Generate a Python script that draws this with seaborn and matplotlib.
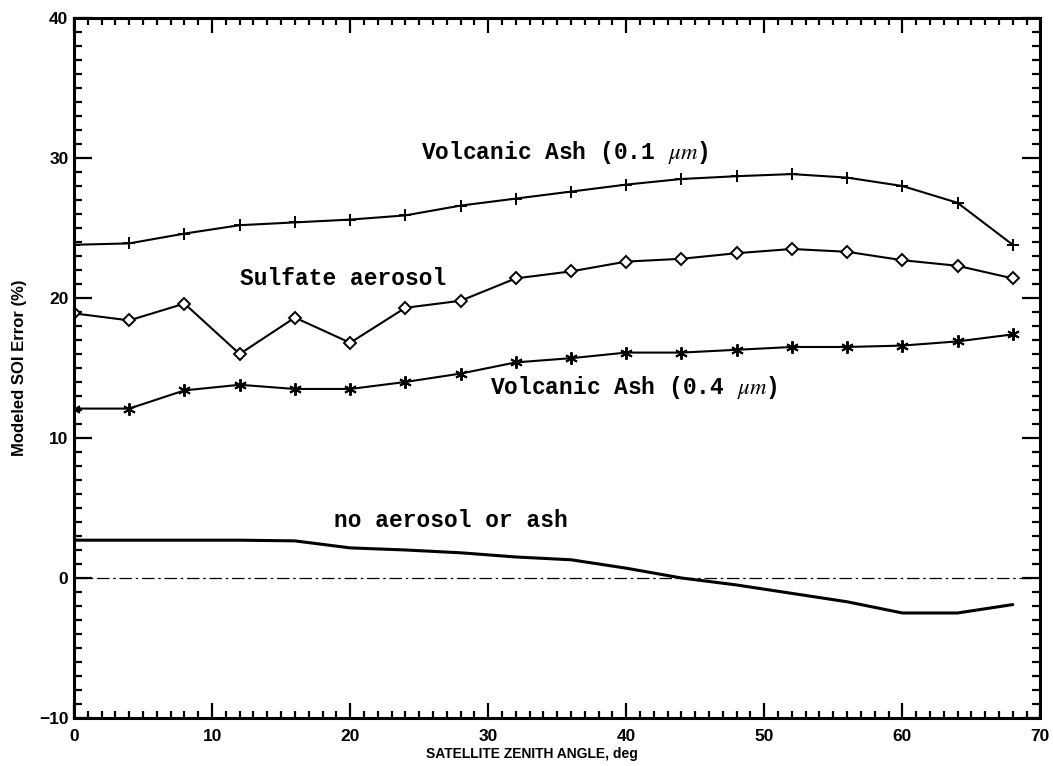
import numpy as np
import pandas as pd
import matplotlib
matplotlib.use("Agg")
import matplotlib.pyplot as plt
import seaborn as sns
from matplotlib.ticker import MultipleLocator

# Satellite zenith angle samples (deg)
zenith = [0, 4, 8, 12, 16, 20, 24, 28, 32, 36, 40, 44, 48, 52, 56, 60, 64, 68]

# Modeled SOI error (%) for each case
ash_01 = [23.8, 23.9, 24.6, 25.2, 25.4, 25.6, 25.9, 26.6, 27.1, 27.6, 28.1, 28.5,
          28.7, 28.85, 28.6, 28.0, 26.8, 23.8]
sulfate = [18.9, 18.4, 19.6, 16.0, 18.6, 16.8, 19.3, 19.8, 21.4, 21.9, 22.6, 22.8,
           23.2, 23.5, 23.3, 22.7, 22.3, 21.4]
ash_04 = [12.1, 12.1, 13.4, 13.8, 13.5, 13.5, 14.0, 14.6, 15.4, 15.7, 16.1, 16.1,
          16.3, 16.5, 16.5, 16.6, 16.9, 17.4]
no_aerosol = [2.7, 2.7, 2.7, 2.7, 2.65, 2.15, 2.0, 1.8, 1.5, 1.3, 0.7, 0.0,
              -0.5, -1.1, -1.7, -2.5, -2.5, -1.9]

series_names = ["ash01", "sulfate", "ash04", "clear"]
series_values = [ash_01, sulfate, ash_04, no_aerosol]

xticks = [0, 10, 20, 30, 40, 50, 60, 70]
yticks = [-10, 0, 10, 20, 30, 40]

df = pd.DataFrame({
    "angle": np.tile(zenith, len(series_names)),
    "error": np.concatenate(series_values),
    "case": np.repeat(series_names, len(zenith)),
})

sns.set_theme(style="ticks")
plt.rcParams["font.family"] = ["Liberation Sans", "DejaVu Sans"]
plt.rcParams["text.color"] = "black"
plt.rcParams["axes.labelcolor"] = "black"
plt.rcParams["mathtext.fontset"] = "stix"

fig = plt.figure(figsize=(10.53, 7.66), dpi=100)
ax = fig.add_axes([0.0703, 0.0627, 0.9177, 0.9138])

markers = {"ash01": "+", "sulfate": "D", "ash04": (6, 2, 0), "clear": None}
sizes = {"ash01": 9, "sulfate": 6, "ash04": 9, "clear": 0}

for name in series_names:
    sub = df[df["case"] == name]
    sns.lineplot(data=sub, x="angle", y="error", ax=ax, sort=False, estimator=None,
                 color="black", linewidth=1.5 if name != "clear" else 2.2,
                 marker=markers[name], markersize=sizes[name],
                 markerfacecolor="white", markeredgecolor="black",
                 markeredgewidth=1.4, legend=False)

# zero reference line
ax.axhline(0, color="black", linewidth=0.9, linestyle=(0, (10, 3, 2, 3)))

ax.set_xlim(0, 70)
ax.set_ylim(-10, 40)
ax.set_xticks(xticks)
ax.set_yticks(yticks)
ax.xaxis.set_minor_locator(MultipleLocator(1))
ax.yaxis.set_minor_locator(MultipleLocator(1))
ax.tick_params(axis="both", which="both", direction="in", top=True, right=True,
               width=1.6, colors="black")
ax.tick_params(axis="x", which="major", length=11, labelsize=12.5, pad=8)
ax.tick_params(axis="x", which="minor", length=5)
ax.tick_params(axis="y", which="major", length=13, labelsize=12.5, pad=4)
ax.tick_params(axis="y", which="minor", length=6)
for lbl in ax.get_xticklabels() + ax.get_yticklabels():
    lbl.set_fontweight("bold")

for sp in ax.spines.values():
    sp.set_linewidth(2.2)
    sp.set_color("black")

ax.set_xlabel("SATELLITE ZENITH ANGLE, deg", fontsize=10, fontweight="bold",
              color="black")
ax.xaxis.set_label_coords(0.474, -0.042)
ax.set_ylabel("Modeled SOI Error (%)", fontsize=12, fontweight="bold",
              color="black")
ax.yaxis.set_label_coords(-0.049, 0.5)

mono = dict(family=["Liberation Mono", "DejaVu Sans Mono"], fontsize=16.5,
            fontweight="bold", color="black", va="center", ha="left")
ax.text(25.1, 30.4, r"Volcanic Ash (0.1 $\mu m$)", **mono)
ax.text(12.0, 21.4, "Sulfate aerosol", **mono)
ax.text(30.1, 13.6, r"Volcanic Ash (0.4 $\mu m$)", **mono)
ax.text(18.8, 4.1, "no aerosol or ash", **mono)

fig.savefig("out.png", dpi=100, facecolor="white")
